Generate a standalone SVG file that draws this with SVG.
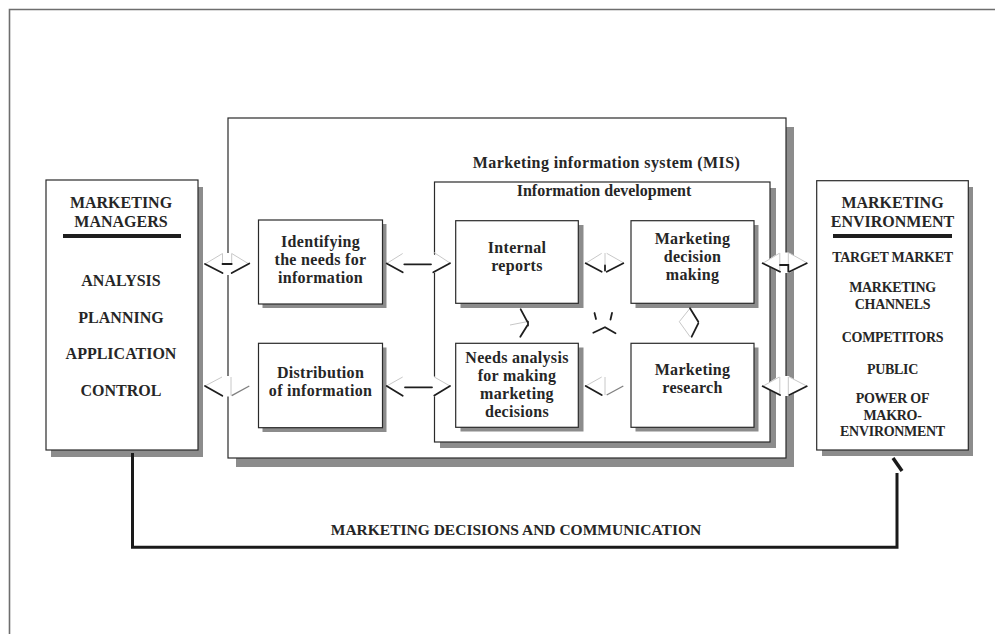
<svg xmlns="http://www.w3.org/2000/svg" width="995" height="634" viewBox="0 0 995 634">
<defs>
<style>
.box{fill:#fff;stroke:#2a2a2a;stroke-width:1.2}
.sh{fill:#8c8c8c}
.t{font-family:"Liberation Serif","Times New Roman",serif;font-weight:bold;fill:#262626;text-anchor:middle}
.n{font-size:16px;letter-spacing:0.3px}
.h{font-size:16px}
.li{font-size:14px;letter-spacing:-0.3px}
.ml{font-size:16px}
.wf{fill:#fff;stroke:none}
.dk{fill:none;stroke:#1e1e1e;stroke-width:1.8;stroke-linecap:round}
.md{fill:none;stroke:#808080;stroke-width:1.4}
.lt{fill:none;stroke:#c8c8c8;stroke-width:1}
</style>
</defs>
<rect width="995" height="634" fill="#fff"/>
<path d="M9.5,634 V9.5 H995" fill="none" stroke="#6e6e6e" stroke-width="1.6"/>

<g id="mis">
<rect class="sh" x="236" y="127" width="558" height="340"/>
<rect class="box" x="228" y="118" width="558" height="340"/>
<text class="t" x="606.5" y="168" style="font-size:16px;letter-spacing:0.4px">Marketing information system (MIS)</text>
</g>
<g id="info-dev">
<rect class="sh" x="440" y="188" width="336" height="260"/>
<rect class="box" x="434.5" y="182" width="335.5" height="260"/>
<text class="t" x="604" y="196" style="font-size:16px">Information development</text>
</g>

<g id="managers">
<rect class="sh" x="51" y="187" width="152" height="270"/>
<rect class="box" x="46" y="180" width="152" height="270"/>
<text class="t h" x="121" y="208">MARKETING</text>
<text class="t h" x="121" y="227">MANAGERS</text>
<rect x="63" y="234" width="118" height="4" fill="#1e1e1e"/>
<text class="t ml" x="121" y="286">ANALYSIS</text>
<text class="t ml" x="121" y="322.7">PLANNING</text>
<text class="t ml" x="121" y="359.3">APPLICATION</text>
<text class="t ml" x="121" y="396">CONTROL</text>
</g>

<g id="environment">
<rect class="sh" x="822" y="187" width="151" height="269"/>
<rect class="box" x="816.7" y="180.7" width="151.6" height="269.3"/>
<text class="t h" x="892.5" y="208.3">MARKETING</text>
<text class="t h" x="892.5" y="226.7">ENVIRONMENT</text>
<rect x="833" y="234" width="119" height="4" fill="#1e1e1e"/>
<text class="t li" x="892.5" y="261.7">TARGET MARKET</text>
<text class="t li" x="892.5" y="291.7">MARKETING</text>
<text class="t li" x="892.5" y="309.3">CHANNELS</text>
<text class="t li" x="892.5" y="341.7">COMPETITORS</text>
<text class="t li" x="892.5" y="374">PUBLIC</text>
<text class="t li" x="892.5" y="403.3">POWER OF</text>
<text class="t li" x="892.5" y="420">MAKRO-</text>
<text class="t li" x="892.5" y="435.7">ENVIRONMENT</text>
</g>

<g id="identifying">
<rect class="sh" x="262.5" y="224" width="124" height="84"/>
<rect class="box" x="258.5" y="220" width="124" height="84"/>
<text class="t n" x="320.5" y="246.5">Identifying</text>
<text class="t n" x="320.5" y="264.5">the needs for</text>
<text class="t n" x="320.5" y="282.5">information</text>
</g>
<g id="distribution">
<rect class="sh" x="262.5" y="347.5" width="124" height="84.5"/>
<rect class="box" x="258.5" y="343.3" width="124" height="84.4"/>
<text class="t n" x="320.5" y="377.7">Distribution</text>
<text class="t n" x="320.5" y="395.7">of information</text>
</g>
<g id="internal">
<rect class="sh" x="460.5" y="225" width="123" height="83"/>
<rect class="box" x="455.7" y="220.7" width="122.6" height="82.6"/>
<text class="t n" x="517" y="253.3">Internal</text>
<text class="t n" x="517" y="271">reports</text>
</g>
<g id="needs">
<rect class="sh" x="460.5" y="347.5" width="123" height="84"/>
<rect class="box" x="455.7" y="343.3" width="122.6" height="84"/>
<text class="t n" x="517" y="362.5">Needs analysis</text>
<text class="t n" x="517" y="380.5">for making</text>
<text class="t n" x="517" y="398.5">marketing</text>
<text class="t n" x="517" y="416.5">decisions</text>
</g>
<g id="decision">
<rect class="sh" x="635.5" y="225" width="123" height="83"/>
<rect class="box" x="631" y="220.7" width="123" height="82.6"/>
<text class="t n" x="692.5" y="244">Marketing</text>
<text class="t n" x="692.5" y="262">decision</text>
<text class="t n" x="692.5" y="280">making</text>
</g>
<g id="research">
<rect class="sh" x="635.5" y="347.5" width="123" height="84"/>
<rect class="box" x="631" y="343.3" width="123" height="84"/>
<text class="t n" x="692.5" y="375">Marketing</text>
<text class="t n" x="692.5" y="393">research</text>
</g>

<g id="connectors">
<!-- white arrow bodies -->
<polygon class="wf" points="205,264 222,253 232,253 249,264 232,275 222,275"/>
<polygon class="wf" points="205,386 222,376 232,376 249,386 232,396.5 222,396.5"/>
<polygon class="wf" points="386.7,264 402.7,254 433.3,254 450,264 433.3,273.5 402.7,273.5"/>
<polygon class="wf" points="386.7,386.5 402.7,376.5 434.3,376.5 450,386.5 434.3,396.5 402.7,396.5"/>
<polygon class="wf" points="762.7,263.3 779.3,252.5 788.3,252.5 806.7,263.3 789.3,273 780,273"/>
<polygon class="wf" points="762.7,386.3 779.3,376 788.3,376 806.7,386.3 789.3,396 780,396"/>

<!-- A1 managers - identifying -->
<path class="lt" d="M205,264 L222.5,253.5 M231.7,253.5 L249,264 M222.5,253.5 V264 M231.7,253.5 V264"/>
<path class="dk" d="M205,264 L222.5,273 M231.7,273 L249.3,263.5 M222.5,264 H231.7"/>
<!-- A2 managers - distribution -->
<path class="lt" d="M231,377 V395.5 M205,386 L222,377"/>
<path class="dk" d="M205,386 L222.3,395.7"/>
<path class="md" d="M231.7,395.7 L249.3,386"/>
<!-- A3 identifying - internal -->
<path class="lt" d="M386.7,263.5 L402.7,253.5 M434,252.5 L450,263"/>
<path class="dk" d="M386.7,263.5 L402.7,272.3 M404.3,264.3 H431 M433.3,272.3 L450,263.3"/>
<!-- A4 distribution - needs -->
<path class="lt" d="M386.7,386 L402.7,377 M434.3,377 L450,386"/>
<path class="dk" d="M386.7,386 L402.7,395.7 M405,387.3 H432 M434.3,395.5 L450,386"/>
<!-- A5 internal - decision -->
<path class="lt" d="M585.7,263.3 L601.7,253.3 M605,253 V265 M606.7,253.3 L623.3,262.7"/>
<path class="dk" d="M585.7,263.3 L601.7,271.7 M606.7,271.7 L623.3,263.3 M605,265.5 V270.5"/>
<!-- A6 needs - research -->
<path class="lt" d="M605,377 V395 M585.7,386 L601.7,377"/>
<path class="dk" d="M585.7,386 L601.7,395"/>
<path class="md" d="M606.7,395 L623.3,386"/>
<!-- A7 decision - environment -->
<path class="lt" d="M762.7,263.3 L779.3,253.3 M789.3,253 L806.7,262.7 M779.8,253 V271.7 M788.3,253 V265"/>
<path class="dk" d="M762.7,263.3 L780,271.7 M780,265 H788.3 V271.7 M789.3,271.7 L806.7,263.3"/>
<!-- A8 research - environment -->
<path class="lt" d="M779.8,377 V395 M788.3,377 V395 M789.3,377 L806.7,386 M762.7,386.3 L779.3,377"/>
<path class="dk" d="M762.7,386.3 L780,395 M789.3,395 L806.7,386.3"/>
<!-- V1 internal - needs -->
<path class="lt" d="M510,325 L527,321.7"/>
<path class="dk" d="M520.7,309.3 L527.3,321.7 M527.3,325.5 L520.3,336.7 M528,321.7 V325.5"/>
<!-- V2 decision - research -->
<path class="lt" d="M690,308.3 L679.3,321.7 L690,336.7"/>
<path class="dk" d="M690,308.3 L698.3,321.7 M698.3,323.3 L691.7,336.7"/>
<!-- V3 middle -->
<path class="dk" d="M594.5,313 L596,319 M612,313 L610.5,319.5 M593.3,332.7 L605,327.3 L615.5,333.3"/>

<!-- feedback loop -->
<path d="M132.5,453 V547.3 H897 V473" fill="none" stroke="#1a1a1a" stroke-width="3"/>
<path d="M893,458 L902,471" fill="none" stroke="#1a1a1a" stroke-width="3.5"/>
<text class="t" x="516" y="535" style="font-size:15.5px">MARKETING DECISIONS AND COMMUNICATION</text>
</g>
</svg>
